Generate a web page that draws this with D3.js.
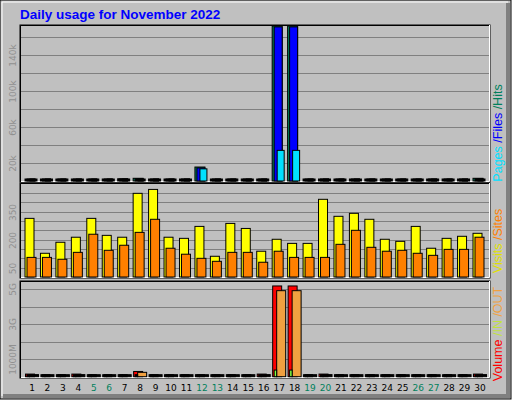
<!DOCTYPE html><html><head><meta charset="utf-8">
<script src="https://cdn.jsdelivr.net/npm/d3@7"></script>
<style>body{margin:0;background:#fff}</style></head><body><svg id="c" width="512" height="400"></svg>
<script>
const days=d3.range(1,31);
const weekend=[5,6,12,13,19,20,26,27];
const hits=[2000,300,300,300,300,300,2500,3000,2000,300,300,15500,300,300,300,300,172000,172000,300,1500,1500,300,300,300,2000,300,300,300,300,3000];
const files=[1500,300,300,300,300,300,2200,2500,1500,300,300,14500,300,300,300,300,171000,171000,300,1200,1200,300,300,300,1800,300,300,300,300,2500];
const pages=[300,200,200,200,200,200,1800,1500,300,200,200,13500,200,200,200,200,34000,34000,200,300,300,200,200,200,1500,200,200,200,200,1200];
const visits=[314,127,186,213,314,223,213,448,469,213,207,271,111,287,260,138,202,180,180,416,325,341,309,202,191,271,154,207,218,234];
const sites=[105,105,95,132,229,143,170,239,309,154,122,100,84,132,132,79,138,105,105,105,175,250,159,138,143,127,116,148,148,213];
const volume=[0.15,0.05,0.05,0.15,0.05,0.05,0.05,0.3,0.05,0.05,0.05,0.05,0.05,0.05,0.05,0.15,5.2,5.2,0.05,0.15,0.05,0.05,0.05,0.05,0.05,0.05,0.05,0.05,0.05,0.15];
const volIn=[0.03,0.01,0.01,0.03,0.01,0.01,0.01,0.05,0.01,0.01,0.01,0.01,0.01,0.01,0.01,0.03,0.38,0.38,0.01,0.03,0.01,0.01,0.01,0.01,0.01,0.01,0.01,0.01,0.01,0.03];
const volOut=[0.12,0.04,0.04,0.12,0.04,0.04,0.04,0.25,0.04,0.04,0.04,0.04,0.04,0.04,0.04,0.12,4.93,4.93,0.04,0.12,0.04,0.04,0.04,0.04,0.04,0.04,0.04,0.04,0.04,0.12];
const topTicks=[20000,40000,60000,80000,100000,120000,140000,160000], topLabels={20000:"20k",60000:"60k",100000:"100k",140000:"140k"};
const midTicks=[50,100,150,200,250,300,350,400,450], midLabels={50:"50",200:"200",350:"350"};
const botTicks=[1,2,3,4,5], botLabels={1:"1000M",3:"3G",5:"5G"};

const svg=d3.select("#c");
svg.append("rect").attr("x",0).attr("y",0).attr("width",511).attr("height",399).attr("fill","#c0c0c0").attr("stroke","#000");
svg.append("path").attr("d","M508,3V396H3").attr("stroke","#808080").attr("stroke-width",4).attr("fill","none");
svg.append("path").attr("d","M2,396V2H508").attr("stroke","#fff").attr("stroke-width",1).attr("fill","none");
svg.append("text").attr("x",20).attr("y",19).text("Daily usage for November 2022").attr("fill","#0000ff").attr("font-family","Liberation Sans").attr("font-weight","bold").attr("font-size",13.5);

const x=d3.scaleLinear().domain([1,30]).range([32,480]);
const yT=d3.scaleLinear().domain([0,172000]).range([181,26]);
const yM=d3.scaleLinear().domain([0,498]).range([277,184]);
const yB=d3.scaleLinear().domain([0,5.37]).range([376.7,283]);

function panel(y0,y1,scale,ticks,labels){
  svg.append("rect").attr("x",20).attr("y",y0).attr("width",470).attr("height",y1-y0).attr("fill","#c0c0c0").attr("stroke","#000").attr("stroke-width",1);
  svg.append("path").attr("d",`M20.5,${y1}V${y0+.5}H490`).attr("stroke","#000").attr("fill","none");
  svg.append("path").attr("d",`M21,${y1-.5}H489.5V${y0}`).attr("stroke","#fff").attr("fill","none");
  ticks.forEach(t=>{const yy=Math.round(scale(t))+.5;
    svg.append("line").attr("x1",21).attr("x2",489).attr("y1",yy).attr("y2",yy).attr("stroke","#808080");
    if(labels[t]) svg.append("text").attr("transform",`translate(16,${yy}) rotate(-90)`).attr("text-anchor","middle").text(labels[t]).attr("fill","#909090").attr("font-family","DejaVu Sans").attr("font-size",9);
  });
}
panel(25,182,yT,topTicks,topLabels);
panel(183,278,yM,midTicks,midLabels);
panel(281,378,yB,botTicks,botLabels);

function bars(data,scale,off,w,color){
  const b=scale.range()[0];
  svg.append("g").selectAll("rect").data(data).join("rect")
   .attr("x",(d,i)=>x(days[i])+off).attr("width",w)
   .attr("y",d=>Math.min(scale(d),b-2)).attr("height",d=>Math.max(b-scale(d),2))
   .attr("fill",d=>b-scale(d)<2.5?"#000":color).attr("stroke","#000").attr("stroke-width",1);
}
bars(hits,yT,-7,10,"#00805c");
bars(files,yT,-5,8,"#0000ff");
bars(pages,yT,-2,7,"#00e0ff");
bars(visits,yM,-7,9,"#ffff00");
bars(sites,yM,-5,9,"#ff8000");
bars(volume,yB,-6.5,9,"#ff0000");
bars(volOut,yB,-2.5,9,"#f0a040");
bars(volIn,yB,-5,2.5,"#80ff40");

svg.append("g").selectAll("text").data(days).join("text").attr("x",d=>x(d)).attr("y",391).attr("text-anchor","middle")
  .text(d=>d).attr("fill",d=>weekend.includes(d)?"#00805c":"#000").attr("font-family","DejaVu Sans").attr("font-size",9);

function legend(cx,cy,parts){
  const t=svg.append("text").attr("transform",`translate(${cx},${cy}) rotate(-90)`).attr("text-anchor","middle").attr("font-family","Liberation Sans").attr("font-size",12.5);
  parts.forEach(p=>t.append("tspan").text(p[0]).attr("fill",p[1]));
}
legend(502,133,[["Pages","#00e0ff"],[" /","#0000ff"],["Files","#0000ff"],[" /","#00805c"],["Hits","#00805c"]]);
legend(502,241,[["Visits","#e0e000"],[" /","#ff8000"],["Sites","#ff8000"]]);
legend(502,334,[["Volume","#ff0000"],["  /","#c0e040"],["IN","#c0e040"],["  /","#f0a040"],["OUT","#f0a040"]]);
</script></body></html>
